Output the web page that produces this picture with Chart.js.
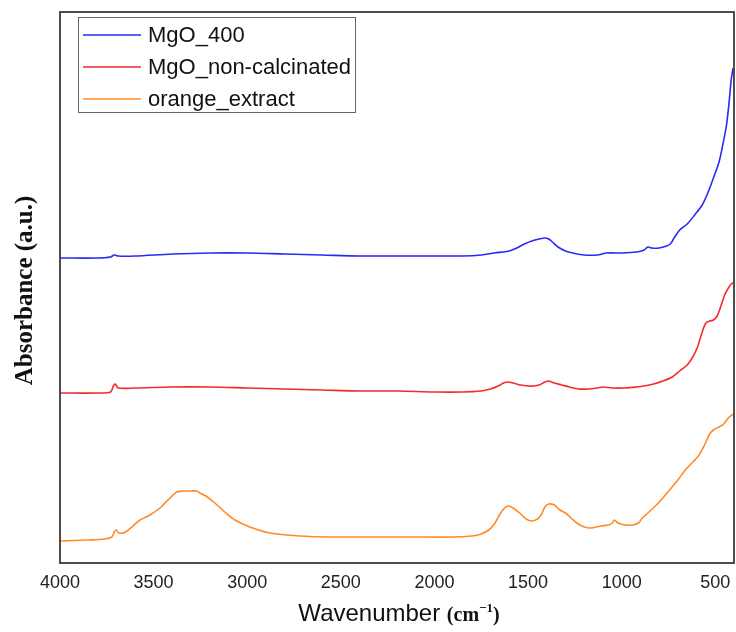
<!DOCTYPE html>
<html>
<head>
<meta charset="utf-8">
<script src="https://cdn.jsdelivr.net/npm/chart.js@4/dist/chart.umd.min.js"></script>
<style>
  html, body { margin: 0; padding: 0; background: #fff; }
</style>
</head>
<body>
<canvas id="ftir" width="736" height="632"></canvas>
<script>
// FTIR spectra, wavenumber (cm-1) vs absorbance (a.u., stacked offsets)
const xTicks = [4000, 3500, 3000, 2500, 2000, 1500, 1000, 500];

const mgo400Wn = [4000, 3800, 3730, 3710, 3690, 3600, 3400, 3200, 3000, 2800, 2600, 2400, 2200, 2000, 1850, 1750, 1680,
  1600, 1560, 1520, 1480, 1440, 1410, 1390, 1370, 1340, 1300, 1260, 1200, 1130, 1080, 1000, 920, 880, 860, 840, 800,
  760, 740, 720, 690, 650, 610, 570, 540, 510, 480, 460, 440, 425, 415, 405];
const mgo400Abs = [3.05, 3.05, 3.06, 3.08, 3.07, 3.07, 3.09, 3.10, 3.10, 3.09, 3.08, 3.07, 3.07, 3.07, 3.07, 3.08, 3.10,
  3.12, 3.15, 3.19, 3.22, 3.24, 3.25, 3.24, 3.21, 3.16, 3.12, 3.10, 3.08, 3.08, 3.10, 3.10, 3.11, 3.13, 3.16, 3.15, 3.15,
  3.17, 3.19, 3.25, 3.33, 3.39, 3.48, 3.58, 3.70, 3.85, 4.01, 4.18, 4.38, 4.63, 4.83, 4.95];

const nonCalcWn = [4000, 3800, 3730, 3715, 3705, 3690, 3600, 3400, 3200, 3000, 2800, 2600, 2400, 2200, 2000, 1850, 1750,
  1700, 1660, 1630, 1610, 1580, 1540, 1500, 1470, 1440, 1410, 1390, 1360, 1320, 1280, 1230, 1180, 1130, 1100, 1050, 980,
  920, 880, 830, 780, 730, 690, 650, 620, 595, 570, 550, 530, 510, 490, 470, 450, 430, 415, 405];
const nonCalcAbs = [1.70, 1.70, 1.71, 1.77, 1.79, 1.75, 1.75, 1.76, 1.76, 1.75, 1.74, 1.73, 1.72, 1.72, 1.71, 1.71, 1.72,
  1.74, 1.77, 1.80, 1.81, 1.80, 1.78, 1.77, 1.77, 1.78, 1.81, 1.82, 1.80, 1.78, 1.76, 1.74, 1.74, 1.75, 1.76, 1.75, 1.75,
  1.76, 1.77, 1.79, 1.82, 1.86, 1.92, 1.98, 2.06, 2.16, 2.31, 2.40, 2.42, 2.43, 2.47, 2.57, 2.68, 2.75, 2.79, 2.80];

const orangeWn = [4000, 3850, 3760, 3723, 3710, 3700, 3685, 3650, 3573, 3520, 3466, 3413, 3376, 3340, 3306, 3270, 3253,
  3221, 3173, 3120, 3066, 2986, 2879, 2719, 2560, 2300, 2100, 1900, 1800, 1750, 1710, 1680, 1650, 1625, 1605,
  1580, 1545, 1510, 1480, 1450, 1430, 1410, 1390, 1360, 1330, 1300, 1270, 1240, 1200, 1160, 1110, 1070, 1050, 1040, 1020,
  980, 940, 910, 890, 860, 820, 780, 740, 700, 660, 620, 590, 560, 530, 510, 480, 455, 430, 405];
const orangeAbs = [0.22, 0.23, 0.24, 0.26, 0.31, 0.33, 0.30, 0.31, 0.43, 0.48, 0.55, 0.65, 0.71, 0.72, 0.72, 0.72, 0.70,
  0.67, 0.60, 0.51, 0.43, 0.36, 0.30, 0.27, 0.26, 0.26, 0.26, 0.26, 0.27, 0.29, 0.33, 0.39, 0.49, 0.55, 0.57,
  0.55, 0.50, 0.44, 0.42, 0.44, 0.48, 0.56, 0.59, 0.58, 0.53, 0.50, 0.45, 0.40, 0.36, 0.35, 0.37, 0.38, 0.40, 0.43, 0.40,
  0.38, 0.38, 0.40, 0.45, 0.50, 0.57, 0.65, 0.74, 0.83, 0.93, 1.01, 1.07, 1.17, 1.29, 1.33, 1.36, 1.39, 1.45, 1.49];

const seriesLabels = ["MgO_400", "MgO_non-calcinated", "orange_extract"];
const seriesColors = ["#2a2af5", "#f52a2a", "#ff8a2a"];

function toPoints(xs, ys) {
  return xs.map((x, i) => ({ x, y: ys[i] }));
}

const frameAndTitles = {
  id: "frameAndTitles",
  afterDraw(chart) {
    const { ctx, chartArea } = chart;
    const { left, right, top, bottom } = chartArea;

    // plot frame
    ctx.save();
    ctx.strokeStyle = "#3a3a3a";
    ctx.lineWidth = 1.8;
    ctx.strokeRect(left, top, right - left, bottom - top);
    ctx.restore();

    // legend box
    const lx = 78, ly = 17, lw = 277, lh = 95;
    ctx.save();
    ctx.fillStyle = "#fff";
    ctx.fillRect(lx, ly, lw, lh);
    ctx.strokeStyle = "#666";
    ctx.lineWidth = 1;
    ctx.strokeRect(lx + 0.5, ly + 0.5, lw, lh);
    ctx.font = "22px 'Liberation Sans', Arial, sans-serif";
    ctx.textBaseline = "middle";
    chart.data.datasets.forEach((ds, i) => {
      const y = 35 + i * 32;
      ctx.strokeStyle = ds.borderColor;
      ctx.lineWidth = 1.5;
      ctx.beginPath();
      ctx.moveTo(83, y);
      ctx.lineTo(141, y);
      ctx.stroke();
      ctx.fillStyle = "#111";
      ctx.fillText(ds.label, 148, y + 1);
    });
    ctx.restore();

    // x axis title: sans word + serif unit with superscript
    ctx.save();
    ctx.fillStyle = "#111";
    ctx.textBaseline = "alphabetic";
    const word = "Wavenumber ";
    const sans = "24px 'Liberation Sans', Arial, sans-serif";
    const serif = "bold 20px 'Liberation Serif', 'Times New Roman', serif";
    const sup = "bold 13px 'Liberation Serif', 'Times New Roman', serif";
    ctx.font = sans;
    const w1 = ctx.measureText(word).width;
    ctx.font = serif;
    const w2 = ctx.measureText("(cm").width;
    const w4 = ctx.measureText(")").width;
    ctx.font = sup;
    const w3 = ctx.measureText("\u22121").width;
    const total = w1 + w2 + w3 + w4;
    let x = (left + right) / 2 + 2 - total / 2;
    const base = 621;
    ctx.font = sans;
    ctx.fillText(word, x, base);
    x += w1;
    ctx.font = serif;
    ctx.fillText("(cm", x, base);
    x += w2;
    ctx.font = sup;
    ctx.fillText("\u22121", x, base - 9);
    x += w3;
    ctx.font = serif;
    ctx.fillText(")", x, base);
    ctx.restore();

    // y axis title
    ctx.save();
    ctx.translate(26, (top + bottom) / 2 + 3);
    ctx.rotate(-Math.PI / 2);
    ctx.font = "bold 25px 'Liberation Serif', 'Times New Roman', serif";
    ctx.fillStyle = "#111";
    ctx.textAlign = "center";
    ctx.textBaseline = "middle";
    ctx.fillText("Absorbance (a.u.)", 0, 0);
    ctx.restore();
  },
};

const datasets = [
  [mgo400Wn, mgo400Abs],
  [nonCalcWn, nonCalcAbs],
  [orangeWn, orangeAbs],
].map(([xs, ys], i) => ({
  label: seriesLabels[i],
  data: toPoints(xs, ys),
  borderColor: seriesColors[i],
  borderWidth: 1.6,
  pointRadius: 0,
  tension: 0.3,
  fill: false,
}));

new Chart(document.getElementById("ftir"), {
  type: "line",
  data: { datasets },
  options: {
    responsive: false,
    animation: false,
    devicePixelRatio: 1,
    layout: { padding: { left: 60, top: 12, right: 2, bottom: 0 } },
    plugins: {
      legend: { display: false },
      tooltip: { enabled: false },
    },
    scales: {
      x: {
        type: "linear",
        reverse: true,
        min: 400,
        max: 4000,
        grid: { display: false, drawTicks: false },
        border: { display: false },
        afterBuildTicks: (axis) => {
          axis.ticks = xTicks.map((v) => ({ value: v }));
        },
        afterFit: (axis) => {
          axis.height = 69;
          axis.paddingLeft = 0;
          axis.paddingRight = 0;
        },
        ticks: {
          padding: 9,
          color: "#222",
          font: { family: "'Liberation Sans', Arial, sans-serif", size: 18 },
          maxRotation: 0,
          autoSkip: false,
          callback: (value) => String(value),
        },
      },
      y: {
        display: false,
        min: 0,
        max: 5.51,
      },
    },
  },
  plugins: [frameAndTitles],
});
</script>
</body>
</html>
